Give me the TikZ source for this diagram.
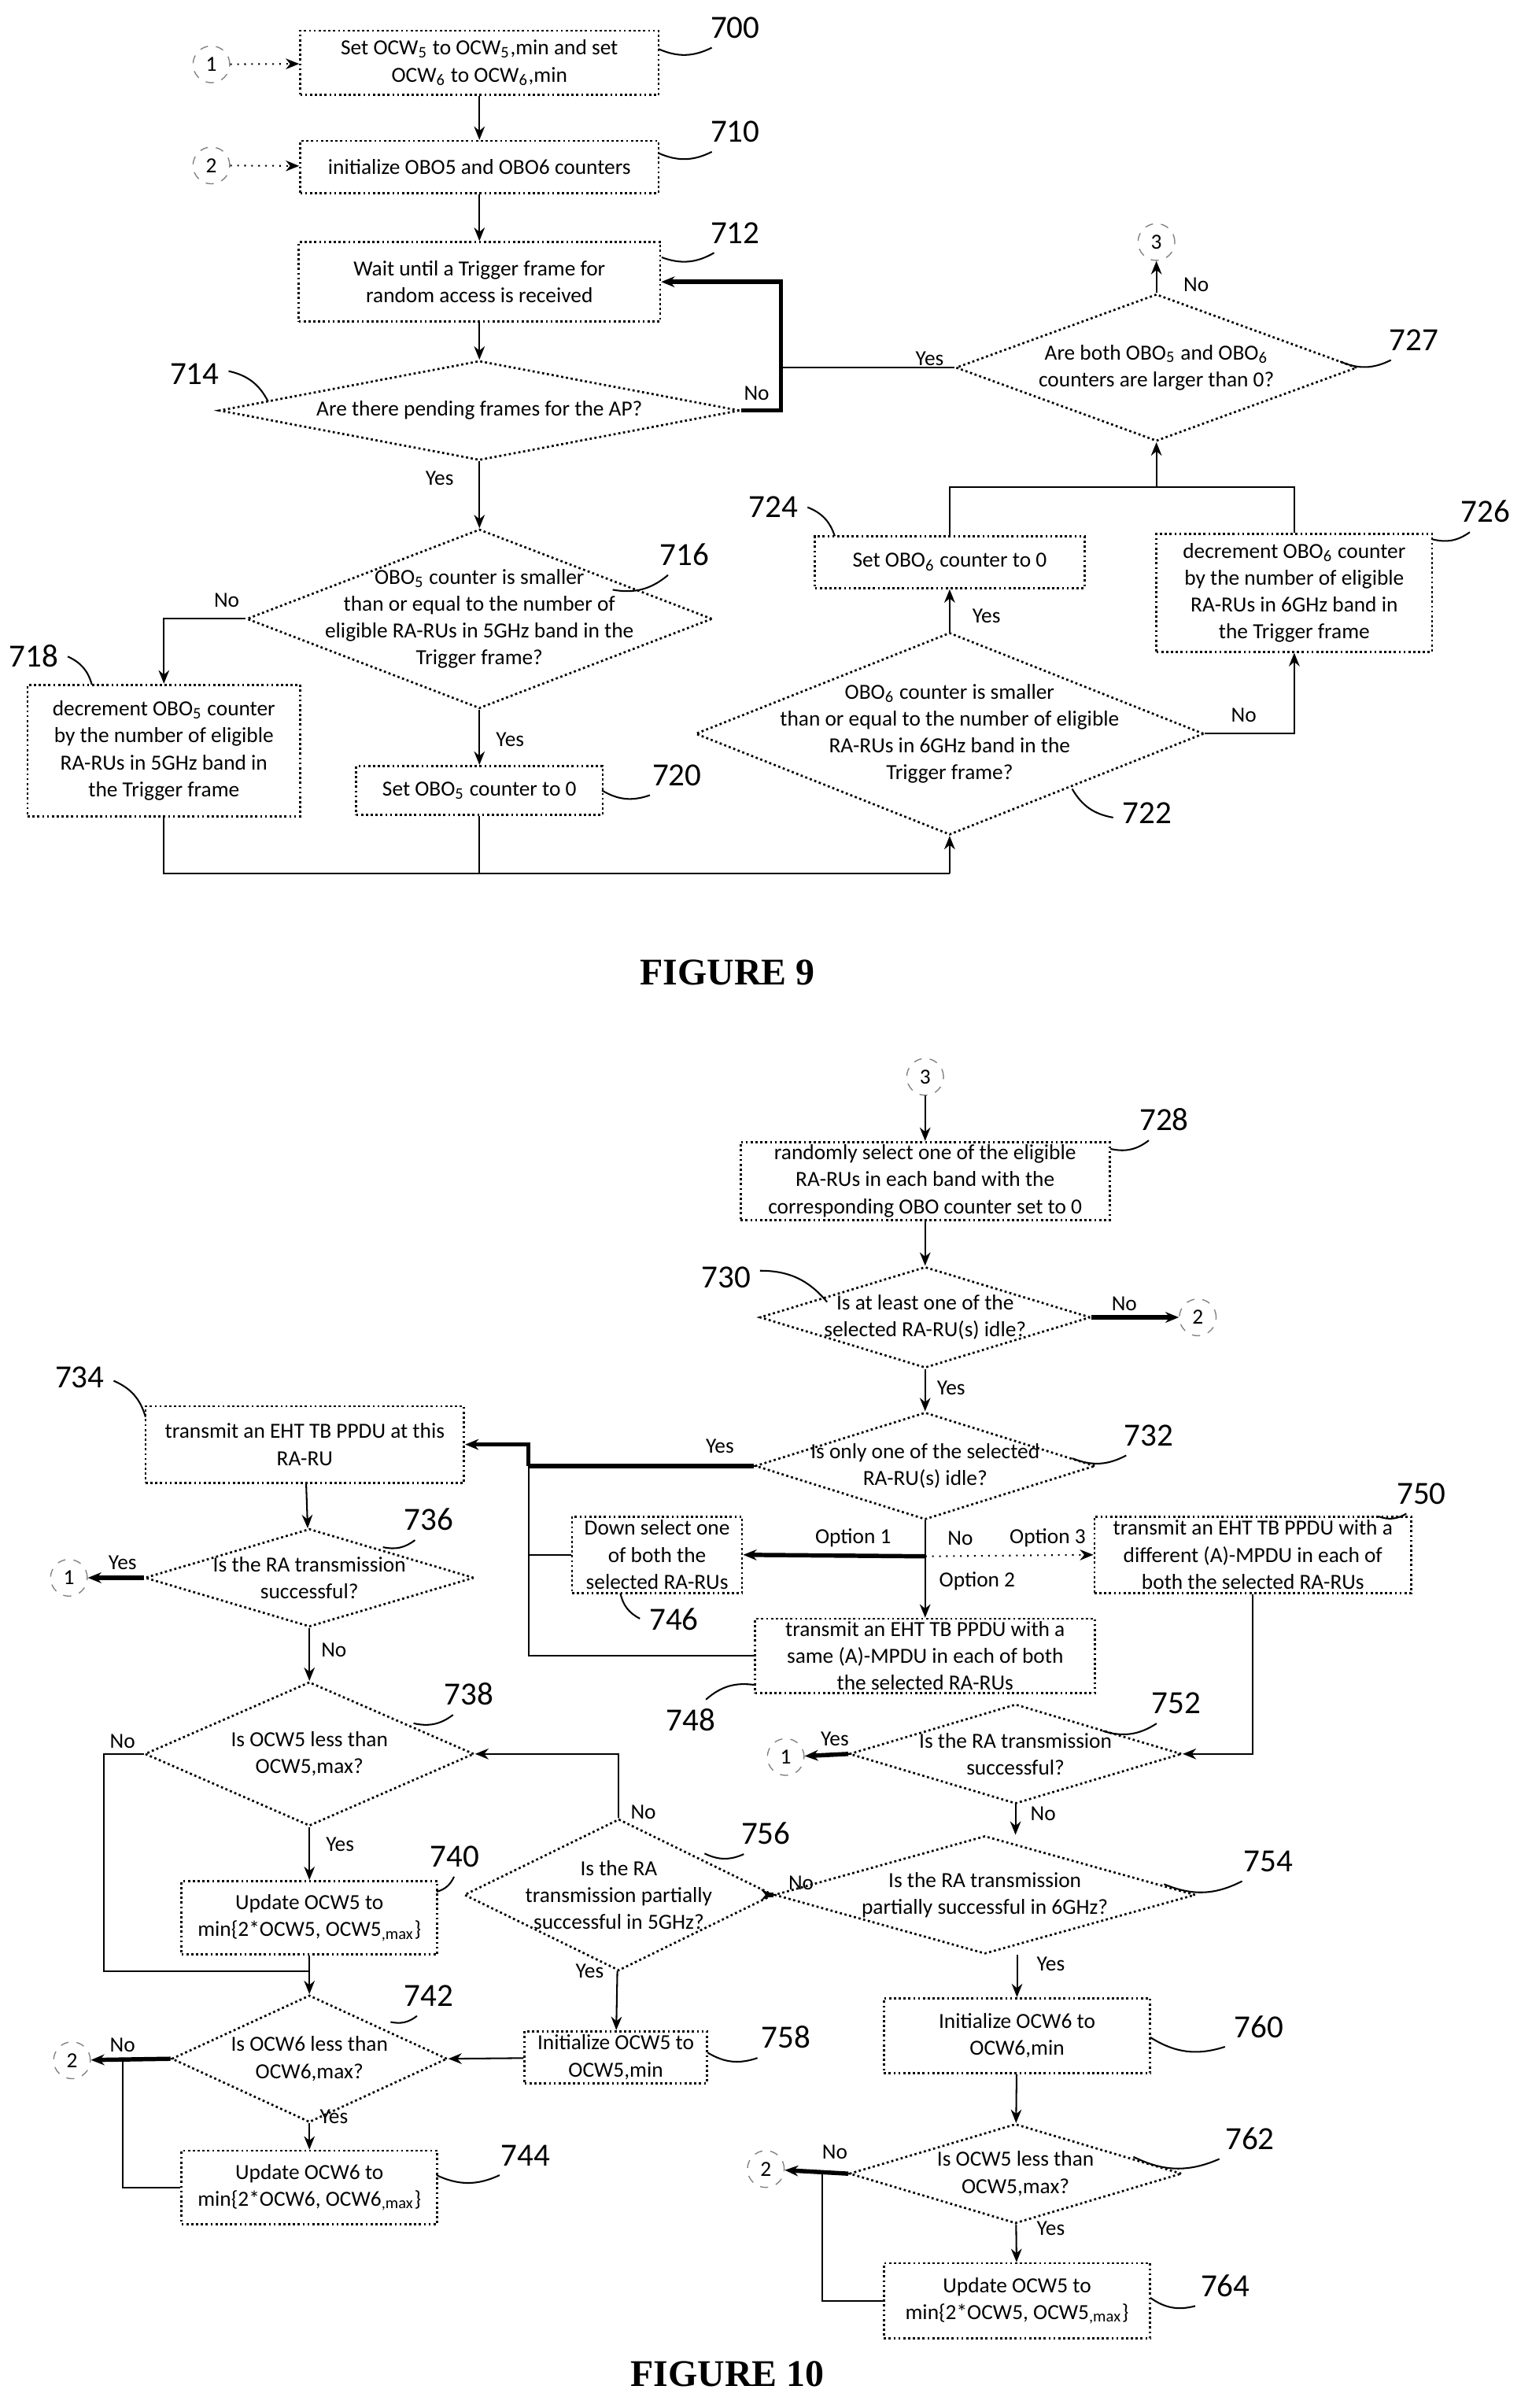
\documentclass[tikz,border=0pt]{standalone}
\usepackage{fontspec}
\setmainfont{Carlito}
\newfontfamily\figfont{Liberation Serif}
\usetikzlibrary{shapes.geometric,arrows.meta}
\newcommand{\sub}[1]{\textsubscript{#1}}
\begin{document}
\begin{tikzpicture}[x=0.02cm,y=-0.02cm,
  >={Stealth[length=5pt,width=4pt]},
  txt/.style={font=\fontsize{8}{10}\selectfont,align=center},
  box/.style={draw,line width=0.8pt,densely dotted,txt,inner sep=1pt},
  dia/.style={draw,diamond,line width=0.8pt,densely dotted,inner sep=0pt},
  circ/.style={draw,circle,dashed,gray,minimum size=0.48cm,inner sep=0pt,text=black,font=\fontsize{8}{9}\selectfont},
  tag/.style={font=\fontsize{12}{14}\selectfont},
  lbl/.style={font=\fontsize{8}{9}\selectfont},
  flow/.style={->,line width=0.6pt},
  main/.style={->,line width=1.6pt}]
\useasboundingbox (0,0) rectangle (1000,1572);
% ---------------- figure 9
\node[circ] (c1a) at (138,42) {1};
\node[circ] (c2a) at (138,108) {2};
\node[circ] (c3a) at (755,158) {3};
\node[box,minimum width=4.68cm,minimum height=0.84cm] (b700) at (313,41) {Set OCW\sub5 to OCW\sub5,min and set\\OCW\sub6 to OCW\sub6,min};
\node[box,minimum width=4.68cm,minimum height=0.68cm] (b710) at (313,109) {initialize OBO5 and OBO6 counters};
\node[box,minimum width=4.72cm,minimum height=1.04cm] (b712) at (313,184) {Wait until a Trigger frame for\\random access is received};
\node[dia,minimum width=6.8cm,minimum height=1.3cm,label={[txt]center:Are there pending frames for the AP?}] (d714) at (313,268) {};
\node[dia,minimum width=6.08cm,minimum height=2.34cm,label={[txt]center:OBO\sub5 counter is smaller\\than or equal to the number of\\eligible RA-RUs in 5GHz band in the\\Trigger frame?}] (d716) at (313,404) {};
\node[box,minimum width=3.56cm,minimum height=1.72cm] (b718) at (107,490) {decrement OBO\sub5 counter\\by the number of eligible\\RA-RUs in 5GHz band in\\the Trigger frame};
\node[box,minimum width=3.22cm,minimum height=0.64cm] (b720) at (313,516) {Set OBO\sub5 counter to 0};
\node[dia,minimum width=6.64cm,minimum height=2.64cm,label={[txt]center:OBO\sub6 counter is smaller\\than or equal to the number of eligible\\RA-RUs in 6GHz band in the\\Trigger frame?}] (d722) at (620,479) {};
\node[box,minimum width=3.52cm,minimum height=0.68cm] (b724) at (620,367) {Set OBO\sub6 counter to 0};
\node[box,minimum width=3.6cm,minimum height=1.54cm] (b726) at (845,387) {decrement OBO\sub6 counter\\by the number of eligible\\RA-RUs in 6GHz band in\\the Trigger frame};
\node[dia,minimum width=5.24cm,minimum height=1.92cm,label={[txt]center:Are both OBO\sub5 and OBO\sub6\\counters are larger than 0?}] (d727) at (755,240) {};
\coordinate (jn) at (510,240);
\coordinate (bot) at (620,570);
\coordinate (top) at (755,318);
\draw[flow,dotted] (c1a) -- (b700);
\draw[flow,dotted] (c2a) -- (b710);
\draw[flow] (b700) -- (b710);
\draw[flow] (b710) -- (b712);
\draw[flow] (b712) -- (d714);
\draw[flow] (d714) -- (d716);
\draw[main] (d714.east) -| (jn) |- (b712.east);
\draw[line width=0.6pt] (d727.west) -- (jn);
\draw[flow] (d727.north) -- (c3a);
\draw[flow] (d716.west) -| (b718.north);
\draw[flow] (d716) -- (b720);
\draw[line width=0.6pt] (b718.south) |- (bot);
\draw[line width=0.6pt] (b720.south) -- (b720.south|-bot);
\draw[flow] (bot) -- (d722.south);
\draw[flow] (d722) -- (b724);
\draw[flow] (d722.east) -| (b726.south);
\draw[line width=0.6pt] (b724.north) |- (top) -| (b726.north);
\draw[flow] (top) -- (d727.south);
\node[lbl] at (287,312) {Yes};
\node[lbl] at (148,392) {No};
\node[lbl] at (333,483) {Yes};
\node[lbl] at (644,402) {Yes};
\node[lbl] at (812,467) {No};
\node[lbl] at (607,234) {Yes};
\node[lbl] at (494,257) {No};
\node[lbl] at (781,186) {No};
\node[font=\figfont\bfseries\fontsize{14}{16}\selectfont] (fig9) at (475,635) {FIGURE 9};
% ---------------- figure 10
\node[circ] (c3b) at (604,703) {3};
\node[circ] (c2b) at (782,860) {2};
\node[circ] (c1b) at (45,1030) {1};
\node[circ] (c2c) at (47,1345) {2};
\node[circ] (c1c) at (513,1147) {1};
\node[circ] (c2d) at (500,1416) {2};
\node[box,minimum width=4.82cm,minimum height=1.02cm] (b728) at (604,771) {randomly select one of the eligible\\RA-RUs in each band with the\\corresponding OBO counter set to 0};
\node[dia,minimum width=4.32cm,minimum height=1.32cm,label={[txt]center:Is at least one of the\\selected RA-RU(s) idle?}] (d730) at (604,860) {};
\node[dia,minimum width=4.44cm,minimum height=1.4cm,label={[txt]center:Is only one of the selected\\RA-RU(s) idle?}] (d732) at (604,957) {};
\node[box,minimum width=4.16cm,minimum height=1.0cm] (b734) at (199,943) {transmit an EHT TB PPDU at this\\RA-RU};
\node[dia,minimum width=4.3cm,minimum height=1.28cm,label={[txt]center:Is the RA transmission\\successful?}] (d736) at (202,1030) {};
\node[dia,minimum width=4.3cm,minimum height=1.88cm,label={[txt]center:Is OCW5 less than\\OCW5,max?}] (d738) at (202,1145) {};
\node[box,minimum width=3.34cm,minimum height=0.96cm] (b740) at (202,1252) {Update OCW5 to\\min\{2*OCW5, OCW5\sub{,max}\}};
\node[dia,minimum width=3.6cm,minimum height=1.66cm,label={[txt]center:Is OCW6 less than\\OCW6,max?}] (d742) at (202,1344) {};
\node[box,minimum width=3.34cm,minimum height=0.96cm] (b744) at (202,1428) {Update OCW6 to\\min\{2*OCW6, OCW6\sub{,max}\}};
\node[box,minimum width=2.22cm,minimum height=1.0cm] (b746) at (429,1015) {Down select one\\of both the\\selected RA-RUs};
\node[box,minimum width=4.44cm,minimum height=0.94cm] (b748) at (604,1081) {transmit an EHT TB PPDU with a\\same (A)-MPDU in each of both\\the selected RA-RUs};
\node[box,minimum width=4.14cm,minimum height=1.0cm] (b750) at (818,1015) {transmit an EHT TB PPDU with a\\different (A)-MPDU in each of\\both the selected RA-RUs};
\node[dia,minimum width=4.34cm,minimum height=1.3cm,label={[txt]center:Is the RA transmission\\successful?}] (d752) at (663,1145) {};
\node[dia,minimum width=5.5cm,minimum height=1.54cm,label={[txt]center:Is the RA transmission\\partially successful in 6GHz?}] (d754) at (643,1237) {};
\node[dia,minimum width=4.04cm,minimum height=1.98cm,label={[txt]center:Is the RA\\transmission partially\\successful in 5GHz?}] (d756) at (404,1237) {};
\node[box,minimum width=2.38cm,minimum height=0.68cm] (b758) at (402,1343) {Initialize OCW5 to\\OCW5,min};
\node[box,minimum width=3.48cm,minimum height=0.98cm] (b760) at (664,1329) {Initialize OCW6 to\\OCW6,min};
\node[dia,minimum width=4.34cm,minimum height=1.3cm,label={[txt]center:Is OCW5 less than\\OCW5,max?}] (d762) at (663,1419) {};
\node[box,minimum width=3.48cm,minimum height=0.98cm] (b764) at (664,1502) {Update OCW5 to\\min\{2*OCW5, OCW5\sub{,max}\}};
\coordinate (k) at (345,957);
\coordinate (opt) at (604,1016);
\coordinate (m0) at (68,1287);
\coordinate (m) at (202,1287);
\coordinate (n0) at (80,1344);
\coordinate (n1) at (537,1419);
\draw[flow] (c3b) -- (b728);
\draw[flow] (b728) -- (d730);
\draw[main] (d730.east) -- (c2b);
\draw[flow] (d730) -- (d732);
\draw[line width=1.6pt] (d732.west) -- (k);
\draw[main] (k) |- (b734.east);
\draw[line width=0.6pt] (b746.west) -| (k);
\draw[line width=0.6pt] (b748.west) -| (k);
\draw[line width=0.6pt] (d732.south) -- (opt);
\draw[main] (opt) -- (b746.east);
\draw[flow,dotted] (opt) -- (b750.west);
\draw[flow] (opt) -- (b748.north);
\draw[flow] (b734) -- (d736);
\draw[main] (d736.west) -- (c1b);
\draw[flow] (d736) -- (d738);
\draw[flow] (d738) -- (b740);
\draw[line width=0.6pt] (d738.west) -| (m0) -- (m);
\draw[flow] (b740) -- (d742);
\draw[main] (d742.west) -- (c2c);
\draw[flow] (d742) -- (b744);
\draw[line width=0.6pt] (b744.west) -| (n0);
\draw[flow] (b750.south) |- (d752.east);
\draw[main] (d752.west) -- (c1c);
\draw[flow] (d752.south) -- (d752.south|-d754.north);
\draw[main] (d754.west) -- (d756.east);
\draw[flow] (d756.north) |- (d738.east);
\draw[flow] (d756) -- (b758);
\draw[flow] (b758) -- (d742.east);
\draw[flow] (b760.north|-d754.south) -- (b760);
\draw[flow] (b760) -- (d762);
\draw[main] (d762.west) -- (c2d);
\draw[flow] (d762) -- (b764);
\draw[line width=0.6pt] (b764.west) -| (n1);
\node[lbl] at (734,851) {No};
\node[lbl] at (621,906) {Yes};
\node[lbl] at (470,944) {Yes};
\node[lbl] at (557,1004) {Option 1};
\node[lbl] at (627,1004) {No};
\node[lbl] at (684,1004) {Option 3};
\node[lbl] at (638,1032) {Option 2};
\node[lbl] at (80,1020) {Yes};
\node[lbl] at (218,1077) {No};
\node[lbl] at (80,1137) {No};
\node[lbl] at (222,1204) {Yes};
\node[lbl] at (80,1335) {No};
\node[lbl] at (218,1382) {Yes};
\node[lbl] at (545,1135) {Yes};
\node[lbl] at (681,1184) {No};
\node[lbl] at (523,1229) {No};
\node[lbl] at (420,1183) {No};
\node[lbl] at (385,1287) {Yes};
\node[lbl] at (686,1282) {Yes};
\node[lbl] at (545,1405) {No};
\node[lbl] at (686,1455) {Yes};
\node[font=\figfont\bfseries\fontsize{14}{16}\selectfont] (fig10) at (475,1550) {FIGURE 10};
% reference numerals
\foreach \n/\lx/\ly/\px/\py in {700/480/18/430/32, 710/480/86/430/100, 712/480/152/432/168,
  714/127/244/175/262, 716/447/362/400/385, 718/22/428/60/447, 720/442/506/393/516,
  722/749/531/700/515, 724/505/331/545/350, 726/970/334/935/352, 727/923/222/875/236,
  728/760/731/725/750, 730/474/834/540/850, 732/750/937/700/952, 734/52/899/95/925,
  736/280/992/250/1010, 738/306/1106/270/1125, 740/297/1212/285/1235, 742/280/1303/255/1320,
  744/343/1407/285/1420, 746/440/1057/405/1040, 748/451/1123/493/1100, 750/928/975/900/990,
  752/768/1112/720/1130, 754/828/1215/760/1230, 756/500/1197/460/1210, 758/513/1330/462/1340,
  760/822/1323/751/1330, 762/816/1396/740/1408, 764/800/1492/751/1500}{
  \node[tag] (t\n) at (\lx,\ly) {\n};
  \draw[line width=0.6pt] (\px,\py) to[bend right=25] (t\n);
}
\end{tikzpicture}
\end{document}
